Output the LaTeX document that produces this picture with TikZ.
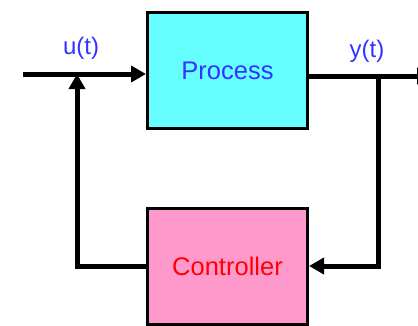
\documentclass[tikz,border=0pt]{standalone}
\usepackage{fontspec}
\setmainfont{Liberation Sans}
\usetikzlibrary{arrows.meta}

\definecolor{procfill}{RGB}{102,255,255}
\definecolor{ctrlfill}{RGB}{255,153,204}
\definecolor{sigblue}{RGB}{51,51,255}

\begin{document}
\begin{tikzpicture}[x=1pt,y=-1pt,
		block/.style={draw=black, line width=3pt, minimum width=160pt, minimum height=116pt, inner sep=0pt, font=\fontsize{25.5}{30}\selectfont},
		wire/.style={line width=5pt, -{Triangle[length=15pt,width=16pt]}},
		sig/.style={text=sigblue, font=\fontsize{24}{28}\selectfont}]
			\useasboundingbox (0,0) rectangle (418,325);

			% Make nodes
			\node[block, fill=procfill, text=sigblue] (process) at (227.5,70.5) {Process};
			\node[block, fill=ctrlfill, text=red] (controller) at (227.5,266) {Controller};

			\node[sig] (ulabel) at (81,48) {u(t)};
			\node[sig] (ylabel) at (367,51) {y(t)};

			\coordinate (in) at (23,74);
			\coordinate (sum) at (77,74);
			\coordinate (tap) at (378.5,76);
			\coordinate (out) at (432,76);

			% Make arrows
			\draw[wire] (in) -- (process.west |- in);
			\draw[wire] (process.east |- tap) -- (out);
			\draw[wire] (tap) |- (controller.east);
			\draw[wire] (controller.west) -| (sum);
\end{tikzpicture}
\end{document}
